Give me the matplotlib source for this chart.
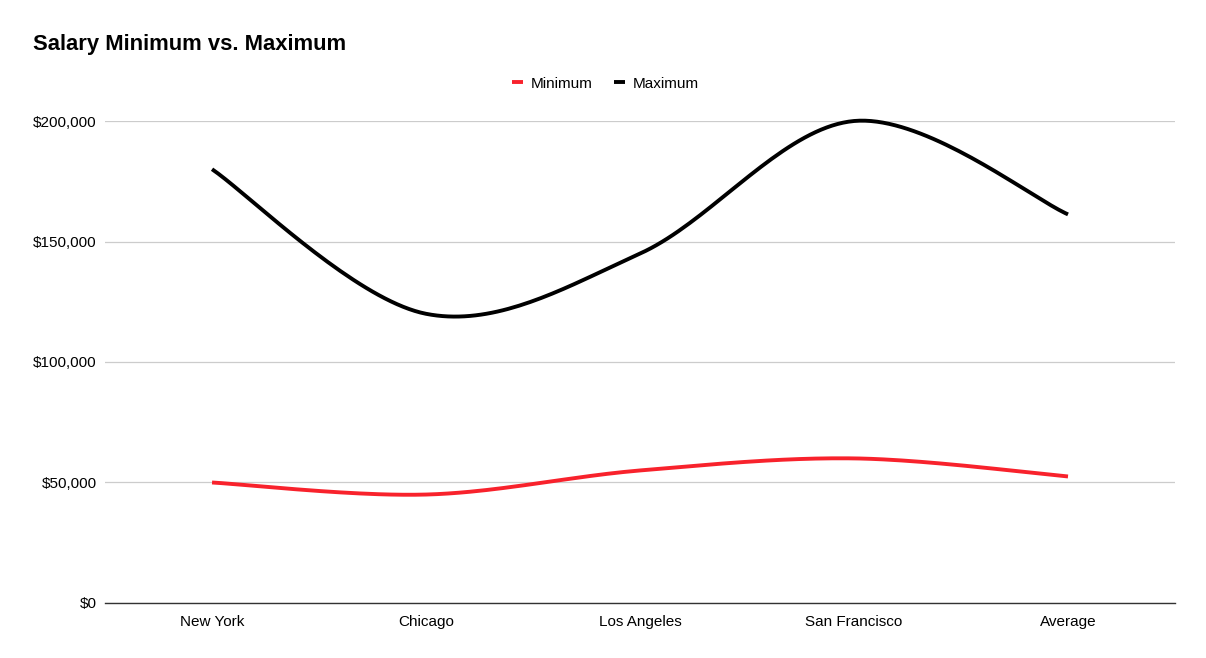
import numpy as np
import matplotlib.pyplot as plt

cities = ['New York', 'Chicago', 'Los Angeles', 'San Francisco', 'Average']
minimum = [50000, 45000, 55000, 60000, 52500]
maximum = [180000, 120000, 145000, 200000, 161250]
yticks = [0, 50000, 100000, 150000, 200000]


def smooth(xs, ys, n=40):
    # catmull-rom curve through the points, like the sheets "smooth" option
    xs = np.asarray(xs, float)
    ys = np.asarray(ys, float)
    px = np.concatenate([[xs[0]], xs, [xs[-1]]])
    py = np.concatenate([[ys[0]], ys, [ys[-1]]])
    out_x, out_y = [], []
    t = np.linspace(0, 1, n)
    for i in range(1, len(px) - 2):
        for p, out in ((px, out_x), (py, out_y)):
            p0, p1, p2, p3 = p[i - 1], p[i], p[i + 1], p[i + 2]
            out.extend(0.5 * (2 * p1 + (-p0 + p2) * t
                              + (2 * p0 - 5 * p1 + 4 * p2 - p3) * t ** 2
                              + (-p0 + 3 * p1 - 3 * p2 + p3) * t ** 3))
    return out_x, out_y


plt.rcParams['font.family'] = ['Liberation Sans', 'DejaVu Sans']

fig = plt.figure(figsize=(12.06, 6.58), dpi=100)
ax = fig.add_axes([0.0871, 0.0836, 0.8872, 0.7325])

x = np.arange(len(cities))
sx, sy = smooth(x, minimum)
ax.plot(sx, sy, color='#f8222c', lw=2.8, label='Minimum', solid_capstyle='butt', clip_on=False)
sx, sy = smooth(x, maximum)
ax.plot(sx, sy, color='black', lw=2.8, label='Maximum', solid_capstyle='butt', clip_on=False)

ax.set_xlim(-0.5, len(cities) - 0.5)
ax.set_ylim(0, 200000)
ax.set_xticks(x)
ax.set_xticklabels(cities, fontsize=11)
ax.set_yticks(yticks)
ax.set_yticklabels(['${:,}'.format(v) for v in yticks], fontsize=11)
ax.tick_params(axis='y', length=0, pad=6)
ax.tick_params(axis='x', length=0, pad=9)
ax.grid(axis='y', color='#cccccc', lw=0.9)
ax.set_axisbelow(True)
for s in ['top', 'right', 'left']:
    ax.spines[s].set_visible(False)
ax.spines['bottom'].set_color('#333333')
ax.spines['bottom'].set_linewidth(1)

fig.text(0.027, 0.933, 'Salary Minimum vs. Maximum', fontsize=15.8, fontweight='bold', va='center')
fig.legend(loc='center', bbox_to_anchor=(0.502, 0.873), ncol=2, frameon=False,
           fontsize=11, handlelength=0.7, handletextpad=0.5, columnspacing=1.4)

fig.savefig('out.png')
